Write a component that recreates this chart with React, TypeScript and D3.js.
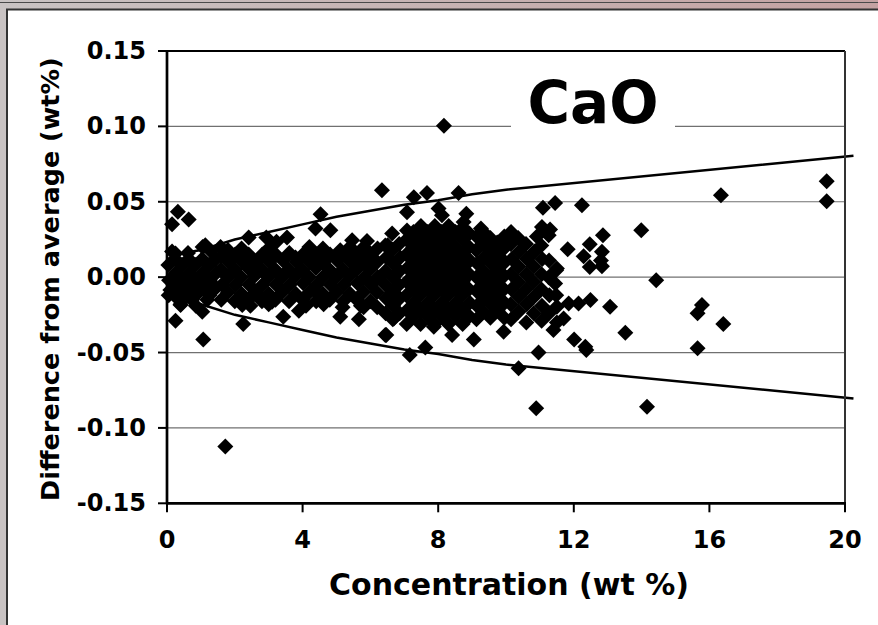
import React from "react";
import * as d3 from "d3";

// ---- axis ticks ----
const xTicks = [0, 4, 8, 12, 16, 20];
const yTicks = [-0.15, -0.1, -0.05, 0, 0.05, 0.1, 0.15];
const yTickLabels = ["-0.15", "-0.10", "-0.05", "0.00", "0.05", "0.10", "0.15"];

// ---- envelope (± precision limit) ----
const envX = [0.1, 0.5, 1, 2, 3, 4, 5, 6, 7, 8, 9, 10, 20.25];
const envUpper = [0.014, 0.016, 0.018, 0.025, 0.03, 0.035, 0.04, 0.044, 0.048, 0.051, 0.055, 0.058, 0.0805];
const envLower = [-0.014, -0.016, -0.018, -0.025, -0.03, -0.035, -0.04, -0.044, -0.048, -0.051, -0.055, -0.058, -0.0805];

// ---- scatter data: [concentration, difference] ----
const lowBand: [number, number][] = [
  [0.05, -0.012], [0.06, -0.002], [0.04, 0.008],
  [0.25, -0.007], [0.27, 0.003], [0.24, 0.012],
  [0.45, -0.012], [0.46, -0.002], [0.44, 0.008],
  [0.65, -0.007], [0.66, 0.003], [0.64, 0.012],
  [0.85, -0.012], [0.86, -0.002], [0.84, 0.008],
  [1.05, -0.007], [1.06, 0.003], [1.04, 0.012],
  [1.25, -0.012], [1.26, -0.002], [1.24, 0.008],
  [1.45, -0.007], [1.46, 0.003], [1.44, 0.012],
  [0.3, -0.014], [0.74, -0.015], [1.19, -0.015],
  [0.15, 0.017], [0.4, -0.018], [0.62, 0.016], [1.05, 0.02], [0.85, -0.019], [1.3, 0.017],
];

const midBand: [number, number][] = [
  [1.6, -0.015], [1.62, -0.005], [1.59, 0.005], [1.61, 0.014],
  [1.8, -0.01], [1.79, 0.0], [1.82, 0.01], [1.8, 0.018],
  [2.0, -0.016], [2.02, -0.005], [1.99, 0.005], [2.01, 0.015],
  [2.2, -0.011], [2.19, 0.0], [2.22, 0.01], [2.2, 0.019],
  [2.4, -0.015], [2.42, -0.005], [2.39, 0.006], [2.41, 0.015],
  [2.6, -0.01], [2.59, 0.001], [2.62, 0.01],
  [2.8, -0.016], [2.82, -0.005], [2.79, 0.005], [2.81, 0.015],
  [3.0, -0.011], [2.99, 0.0], [3.02, 0.01], [3.0, 0.019],
  [3.2, -0.015], [3.22, -0.005], [3.19, 0.005], [3.21, 0.015],
  [3.4, -0.01], [3.39, 0.0], [3.42, 0.011],
  [3.6, -0.016], [3.62, -0.005], [3.59, 0.005], [3.61, 0.016],
  [3.8, -0.011], [3.79, 0.001], [3.82, 0.01],
  [4.0, -0.015], [4.02, -0.004], [3.99, 0.005], [4.01, 0.015],
  [4.2, -0.01], [4.19, 0.0], [4.22, 0.01], [4.2, 0.02],
  [4.4, -0.016], [4.42, -0.005], [4.39, 0.006], [4.41, 0.015],
  [4.6, -0.011], [4.59, 0.0], [4.62, 0.01], [4.6, 0.019],
  [4.8, -0.015], [4.82, -0.005], [4.79, 0.005], [4.81, 0.015],
  [5.0, -0.01], [4.99, 0.0], [5.02, 0.011],
  [5.2, -0.016], [5.22, -0.005], [5.19, 0.005], [5.21, 0.015],
  [5.4, -0.011], [5.39, 0.001], [5.42, 0.01], [5.4, 0.02],
  [5.6, -0.015], [5.62, -0.004], [5.59, 0.005], [5.61, 0.015],
  [5.8, -0.02], [5.79, -0.01], [5.82, 0.0], [5.8, 0.01], [5.81, 0.02],
  [6.0, -0.016], [6.02, -0.005], [5.99, 0.005], [6.01, 0.015],
  [6.2, -0.02], [6.19, -0.01], [6.22, 0.0], [6.2, 0.01], [6.21, 0.019],
  [2.46, -0.019], [3.0, -0.018], [4.1, -0.019], [4.62, -0.018], [5.18, -0.02], [5.72, -0.019],
];

const coreBand: [number, number][] = [
  [6.45, -0.024], [6.46, -0.014], [6.44, -0.005], [6.45, 0.004], [6.47, 0.013], [6.44, 0.021],
  [6.66, -0.028], [6.67, -0.019], [6.65, -0.009], [6.66, 0.0], [6.68, 0.009], [6.65, 0.018],
  [6.86, -0.024], [6.87, -0.014], [6.85, -0.005], [6.86, 0.004], [6.88, 0.013], [6.85, 0.022],
  [7.07, -0.031], [7.08, -0.022], [7.06, -0.012], [7.07, -0.003], [7.09, 0.006], [7.06, 0.015], [7.07, 0.025], [7.08, 0.031],
  [7.27, -0.026], [7.28, -0.017], [7.26, -0.008], [7.27, 0.002], [7.29, 0.011], [7.26, 0.02], [7.27, 0.03],
  [7.48, -0.031], [7.49, -0.022], [7.47, -0.012], [7.48, -0.003], [7.5, 0.006], [7.47, 0.015], [7.48, 0.025], [7.49, 0.034],
  [7.69, -0.026], [7.7, -0.017], [7.68, -0.008], [7.69, 0.002], [7.71, 0.011], [7.68, 0.02], [7.69, 0.03],
  [7.89, -0.031], [7.9, -0.022], [7.88, -0.012], [7.89, -0.003], [7.91, 0.006], [7.88, 0.015], [7.89, 0.025], [7.9, 0.034],
  [8.1, -0.026], [8.11, -0.017], [8.09, -0.008], [8.1, 0.002], [8.12, 0.011], [8.09, 0.02], [8.1, 0.03],
  [8.3, -0.031], [8.31, -0.022], [8.29, -0.012], [8.3, -0.003], [8.32, 0.006], [8.29, 0.015], [8.3, 0.025], [8.31, 0.034],
  [8.51, -0.026], [8.52, -0.017], [8.5, -0.008], [8.51, 0.002], [8.53, 0.011], [8.5, 0.02], [8.51, 0.03],
  [8.72, -0.031], [8.73, -0.022], [8.71, -0.012], [8.72, -0.003], [8.74, 0.006], [8.71, 0.015], [8.72, 0.025], [8.73, 0.033],
  [8.92, -0.026], [8.93, -0.017], [8.91, -0.008], [8.92, 0.002], [8.94, 0.011], [8.91, 0.02], [8.92, 0.029],
  [9.13, -0.028], [9.14, -0.019], [9.12, -0.009], [9.13, 0.0], [9.15, 0.009], [9.12, 0.018], [9.13, 0.027],
  [9.33, -0.023], [9.34, -0.014], [9.32, -0.005], [9.33, 0.004], [9.35, 0.013], [9.32, 0.022], [9.33, 0.03],
  [9.54, -0.027], [9.55, -0.018], [9.53, -0.009], [9.54, 0.0], [9.56, 0.009], [9.53, 0.018], [9.54, 0.026],
  [9.75, -0.022], [9.76, -0.013], [9.74, -0.004], [9.75, 0.005], [9.77, 0.014], [9.74, 0.023],
  [9.95, -0.027], [9.96, -0.017], [9.94, -0.008], [9.95, 0.001], [9.97, 0.01], [9.94, 0.019], [9.95, 0.027],
];

const highBand: [number, number][] = [
  [10.15, -0.028], [10.14, -0.018], [10.16, -0.008], [10.15, 0.002], [10.17, 0.012], [10.14, 0.022], [10.15, 0.03],
  [10.37, -0.023], [10.38, -0.013], [10.36, -0.003], [10.37, 0.007], [10.39, 0.017], [10.36, 0.026],
  [10.6, -0.03], [10.61, -0.018], [10.59, -0.008], [10.6, 0.002], [10.62, 0.012], [10.59, 0.022],
  [10.82, -0.024], [10.83, -0.013], [10.81, -0.003], [10.82, 0.007], [10.84, 0.017],
  [11.05, -0.029], [11.06, -0.019], [11.04, -0.008], [11.05, 0.002], [11.07, 0.012], [11.04, 0.021],
  [11.27, -0.024], [11.28, -0.012], [11.26, 0.0], [11.27, 0.011],
  [11.5, -0.03], [11.48, -0.012],
];

const scattered: [number, number][] = [
  [19.46, 0.0636], [19.46, 0.0503], [16.34, 0.0543], [13.99, 0.0311], [14.43, -0.002],
  [15.78, -0.0185], [15.65, -0.024], [16.41, -0.031], [15.65, -0.0472], [13.52, -0.0369], [14.16, -0.0859],
  [12.24, 0.0477], [11.45, 0.0492], [11.09, 0.0461], [12.86, 0.0278], [12.47, 0.0219], [11.82, 0.0185],
  [12.83, 0.0168], [12.29, 0.0139], [12.47, 0.0068], [12.83, 0.0073], [12.8, 0.011], [11.5, 0.0058],
  [8.6, 0.0558], [7.67, 0.0558], [7.28, 0.053], [6.34, 0.0576], [7.08, 0.043], [8.01, 0.0455],
  [8.11, 0.041], [8.83, 0.042], [8.75, 0.0366], [9.26, 0.0322], [11.06, 0.0333], [11.3, 0.0316],
  [11.26, 0.0278], [6.64, 0.029], [10.91, 0.027], [11.48, 0.0046], [11.45, -0.0042],
  [13.07, -0.0197], [12.49, -0.0152], [12.14, -0.0174], [11.85, -0.0174], [11.5, -0.0197],
  [12.01, -0.0413], [12.34, -0.0461], [12.37, -0.0483], [10.96, -0.0499], [10.37, -0.0605], [10.89, -0.087],
  [7.62, -0.0466], [7.16, -0.0517], [6.47, -0.0384], [7.87, -0.0329], [8.41, -0.0384], [9.05, -0.0413],
  [9.93, -0.0362], [11.4, -0.0351], [11.7, -0.0274],
  [1.72, -0.1124], [1.07, -0.0413], [0.25, -0.029], [2.25, -0.0311], [3.43, -0.0263], [3.89, -0.0223],
  [5.11, -0.0263], [5.66, -0.028], [6.69, -0.0274], [2.22, -0.0185], [1.04, -0.023], [0.4, -0.0185],
  [0.32, 0.0433], [0.15, 0.0351], [0.64, 0.0382], [4.53, 0.0417], [4.38, 0.0322], [4.82, 0.0311],
  [6.51, 0.0212], [1.13, 0.0212], [1.58, 0.02], [2.41, 0.0263], [2.93, 0.0263], [3.54, 0.0263],
  [3.23, 0.0234], [3.79, 0.013], [5.46, 0.0245], [5.9, 0.024], [5.11, 0.0179], [0.25, 0.0157],
  [0.1, -0.0086], [2.66, -0.0108], [3.1, -0.0163], [4.33, -0.0086], [6.44, -0.0384],
  [8.17, 0.1005],
];

const titleText = "CaO";
const xTitle = "Concentration (wt %)";
const yTitle = "Difference from average (wt%)";

const W = 878;
const H = 625;
const L = 167, R = 845, T = 51, B = 503.3;
const FONT = "'DejaVu Sans', Verdana, sans-serif";

export default function App() {
  const x = d3.scaleLinear().domain([0, 20]).range([L, R]);
  const y = d3.scaleLinear().domain([-0.15, 0.15]).range([B, T]);
  const allPts = [...lowBand, ...midBand, ...coreBand, ...highBand, ...scattered];
  const r = 8;
  const diamond = `M0,${-r}L${r},0L0,${r}L${-r},0Z`;
  const line = d3
    .line<number>()
    .x((_, i) => x(envX[i]))
    .y((d) => y(d));

  return (
    <div style={{ position: "fixed", left: 0, top: 0 }}>
      <svg width={W} height={H} style={{ display: "block" }}>
        <defs>
          <linearGradient id="band" x1="0" x2="1" y1="0" y2="0">
            <stop offset="0" stopColor="#c9c3c3" />
            <stop offset="1" stopColor="#c4a2a2" />
          </linearGradient>
        </defs>
        <rect width={W} height={H} fill="#ffffff" />
        {/* window frame */}
        <rect x={0} y={0} width={W} height={9} fill="url(#band)" />
        <rect x={0} y={0} width={7} height={H} fill="#c9c3c3" />
        <line x1={0} x2={W} y1={2.5} y2={2.5} stroke="#4a4a4a" strokeWidth={1} />
        <line x1={6} x2={W} y1={9.5} y2={9.5} stroke="#333" strokeWidth={2} />
        <line x1={7} x2={7} y1={9} y2={H} stroke="#333" strokeWidth={2} />

        {/* gridlines */}
        {yTicks.slice(1, -1).map((t) => (
          <line key={t} x1={L} x2={R} y1={y(t)} y2={y(t)} stroke="#707070" strokeWidth={1.2} />
        ))}

        {/* title box */}
        <rect x={511} y={66} width={164} height={70} fill="#ffffff" />
        <text
          x={593}
          y={123}
          textAnchor="middle"
          fontFamily={FONT}
          fontWeight="bold"
          fontSize={58}
          fill="#000"
        >
          {titleText}
        </text>

        {/* points */}
        {allPts.map((p, i) => (
          <path key={i} d={diamond} transform={`translate(${x(p[0])},${y(p[1])})`} fill="#000" />
        ))}

        {/* envelope lines */}
        <path d={line(envUpper) || ""} fill="none" stroke="#000" strokeWidth={2.5} />
        <path d={line(envLower) || ""} fill="none" stroke="#000" strokeWidth={2.5} />

        {/* plot frame */}
        <line x1={L} x2={R} y1={T} y2={T} stroke="#000" strokeWidth={2} />
        <line x1={R} x2={R} y1={T} y2={B} stroke="#333" strokeWidth={2} />
        <line x1={L} x2={L} y1={T - 1} y2={B + 1} stroke="#000" strokeWidth={2.7} />
        <line x1={L - 1} x2={R + 1} y1={B} y2={B} stroke="#000" strokeWidth={2.7} />

        {/* y ticks */}
        {yTicks.map((t, i) => (
          <g key={t}>
            <line x1={L - 9} x2={L} y1={y(t)} y2={y(t)} stroke="#000" strokeWidth={2} />
            <text
              x={146}
              y={y(t)}
              textAnchor="end"
              dominantBaseline="central"
              fontFamily={FONT}
              fontWeight="bold"
              fontSize={24}
              fill="#000"
            >
              {yTickLabels[i]}
            </text>
          </g>
        ))}

        {/* x ticks */}
        {xTicks.map((t) => (
          <g key={t}>
            <line x1={x(t)} x2={x(t)} y1={B} y2={B + 9} stroke="#000" strokeWidth={2} />
            <text
              x={x(t)}
              y={540}
              textAnchor="middle"
              dominantBaseline="central"
              fontFamily={FONT}
              fontWeight="bold"
              fontSize={24}
              fill="#000"
            >
              {t}
            </text>
          </g>
        ))}

        {/* axis titles */}
        <text
          x={509}
          y={584}
          textAnchor="middle"
          dominantBaseline="central"
          fontFamily={FONT}
          fontWeight="bold"
          fontSize={30}
          fill="#000"
        >
          {xTitle}
        </text>
        <text
          transform={`translate(50,${(T + B) / 2 + 2}) rotate(-90)`}
          textAnchor="middle"
          dominantBaseline="central"
          fontFamily={FONT}
          fontWeight="bold"
          fontSize={25.5}
          fill="#000"
        >
          {yTitle}
        </text>
      </svg>
    </div>
  );
}
